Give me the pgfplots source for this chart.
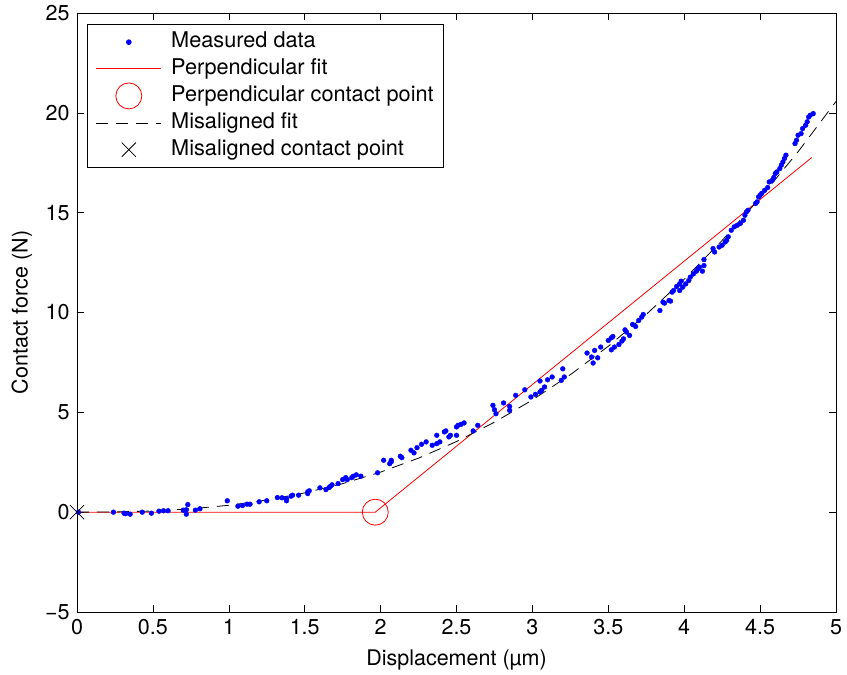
\documentclass[border=0pt]{standalone}
\usepackage{pgfplots}
\pgfplotsset{compat=1.18}
\usepackage{fontspec}
\setmainfont{TeX Gyre Heros}

\pgfplotsset{
  linelegend/.style={legend image code/.code={\draw[##1] (0bp,0bp) -- (65bp,0bp);}},
  marklegend/.style={legend image code/.code={\draw[##1, only marks, mark repeat=2, mark phase=2] plot coordinates {(0bp,0bp) (32.5bp,0bp) (65bp,0bp)};}},
}

\begin{document}
\fontsize{21.5bp}{25bp}\selectfont
\begin{tikzpicture}
  \begin{axis}[
      name=ax,
      scale only axis,
      width=759bp, height=599bp,
      xmin=0, xmax=5, ymin=-5, ymax=25,
      xtick={0,0.5,...,5},
      xticklabels={0,0.5,1,1.5,2,2.5,3,3.5,4,4.5,5},
      ytick={-5,0,5,10,15,20,25},
      yticklabels={−5,0,5,10,15,20,25},
      tick align=inside,
      major tick length=7bp,
      tick style={black, line width=0.6bp},
      axis line style={line width=0.8bp},
      xlabel={Displacement (µm)},
      ylabel={Contact force (N)},
      xlabel style={at={(axis description cs:0.5,-0.080)}, anchor=center},
      ylabel style={at={(axis description cs:-0.0725,0.5)}, anchor=center},
      legend cell align=left,
      legend style={at={(rel axis cs:0.0132,0.9816)}, anchor=north west,
        draw=black, line width=0.8bp, font=\fontsize{21.7bp}{25bp}\selectfont,
        inner xsep=8.5bp, inner ysep=5.5bp, row sep=2bp,
        /tikz/column 1/.style={column sep=8bp},
        nodes={inner sep=1.5bp, text depth=0.25em, text height=0.75em}},
    ]
    %% measured data
    \addplot[only marks, mark=*, mark size=2.4bp, blue, mark options={draw=blue, fill=blue}, marklegend] coordinates {
      (0.01,0.00) (0.24,0.00) (0.31,-0.05) (0.32,-0.08) (0.35,-0.10) (0.43,0.00)
      (0.49,-0.05) (0.54,0.05) (0.57,0.07) (0.60,0.07) (0.70,0.10) (0.72,0.12)
      (0.73,0.38) (0.72,-0.10) (0.78,0.10) (0.81,0.17) (0.99,0.57) (1.06,0.30)
      (1.09,0.33) (1.12,0.40) (1.14,0.40) (1.20,0.52) (1.25,0.57) (1.32,0.73)
      (1.35,0.72) (1.38,0.57) (1.38,0.68) (1.41,0.80) (1.42,0.85) (1.46,0.85)
      (1.52,0.93) (1.52,1.02) (1.53,1.07) (1.60,1.22) (1.64,1.13) (1.66,1.23)
      (1.67,1.30) (1.68,1.37) (1.72,1.43) (1.75,1.63) (1.77,1.73) (1.78,1.63)
      (1.81,1.73) (1.82,1.80) (1.84,1.87) (1.87,1.80) (1.98,1.97) (2.02,2.60)
      (2.06,2.43) (2.07,2.52) (2.07,2.60) (2.13,2.80) (2.14,2.73) (2.20,3.10)
      (2.22,2.97) (2.24,3.23) (2.27,3.40) (2.30,3.52) (2.34,3.35) (2.37,3.43)
      (2.37,3.85) (2.39,3.52) (2.42,4.02) (2.43,4.07) (2.45,3.77) (2.46,3.85)
      (2.50,4.27) (2.51,4.35) (2.53,4.40) (2.55,4.47) (2.50,3.85) (2.61,4.07)
      (2.64,4.35) (2.74,5.35) (2.75,5.13) (2.76,4.93) (2.81,5.47) (2.85,5.30)
      (2.85,5.10) (2.89,5.85) (2.95,6.13) (2.99,5.77) (3.02,5.90) (3.05,6.02)
      (3.06,6.10) (3.05,6.57) (3.08,6.27) (3.10,6.63) (3.13,6.77) (3.19,6.60)
      (3.20,7.18) (3.21,6.77) (3.36,7.97) (3.39,7.77) (3.40,7.47) (3.41,8.10)
      (3.43,7.73) (3.45,8.27) (3.50,8.60) (3.52,8.73) (3.53,8.80) (3.52,8.13)
      (3.54,8.27) (3.57,8.40) (3.59,8.57) (3.60,8.68) (3.61,9.13) (3.62,9.02)
      (3.64,8.85) (3.66,9.40) (3.68,9.30) (3.70,9.60) (3.72,9.77) (3.73,9.90)
      (3.84,10.10) (3.86,10.52) (3.87,10.47) (3.90,10.60) (3.91,10.57) (3.92,11.02)
      (3.93,11.10) (3.95,11.30) (3.97,11.43) (3.98,11.57) (3.97,11.10) (3.99,11.27)
      (4.01,11.43) (4.03,11.60) (4.04,11.77) (4.06,11.93) (4.08,12.07) (4.09,12.18)
      (4.10,12.27) (4.13,12.35) (4.12,12.07) (4.13,12.65) (4.19,13.20) (4.20,13.03)
      (4.23,13.28) (4.25,13.37) (4.27,13.53) (4.28,13.62) (4.29,13.79) (4.31,14.12)
      (4.33,14.29) (4.35,14.37) (4.37,14.46) (4.39,14.62) (4.40,14.87) (4.41,15.04)
      (4.42,15.12) (4.47,15.46) (4.48,15.54) (4.49,15.79) (4.50,15.87) (4.51,15.96)
      (4.53,16.12) (4.55,16.26) (4.56,16.54) (4.58,16.62) (4.59,16.76) (4.60,16.96)
      (4.61,17.04) (4.63,17.21) (4.64,17.38) (4.65,17.54) (4.66,17.71) (4.67,17.88)
      (4.73,18.46) (4.74,18.63) (4.75,18.88) (4.77,18.96) (4.78,19.21) (4.80,19.38)
      (4.81,19.55) (4.82,19.79) (4.83,19.88) (4.85,19.96)
    };
    \addlegendentry{Measured data}
    %% perpendicular fit
    \addplot[red, line width=0.8bp, mark=none, linelegend] coordinates {
      (0,0) (1.965,0) (4.84,17.76)
    };
    \addlegendentry{Perpendicular fit}
    %% perpendicular contact point
    \addplot[only marks, mark=o, mark size=13bp, red, mark options={line width=0.8bp}, marklegend] coordinates {
      (1.965,0)
    };
    \addlegendentry{Perpendicular contact point}
    %% misaligned fit
    \addplot[black, line width=0.8bp, dash pattern=on 12bp off 8bp, mark=none, linelegend] coordinates {
      (0,0) (0.25,0.010) (0.5,0.059) (0.75,0.166) (1,0.345) (1.25,0.608)
      (1.5,0.966) (1.75,1.429) (2,2.007) (2.25,2.706) (2.5,3.536) (2.75,4.506)
      (3,5.62) (3.25,6.886) (3.5,8.31) (3.75,9.905) (4,11.67) (4.25,13.61)
      (4.5,15.74) (4.75,18.05) (5,20.57)
    };
    \addlegendentry{Misaligned fit}
    %% misaligned contact point
    \addplot[only marks, mark=x, mark size=10bp, black, mark options={line width=0.8bp}, marklegend] coordinates {
      (0,0)
    };
    \addlegendentry{Misaligned contact point}
  \end{axis}
  \pgfresetboundingbox
  \path ([xshift=-77bp,yshift=-62bp]ax.south west) rectangle ([xshift=11bp,yshift=13bp]ax.north east);
\end{tikzpicture}
\end{document}
